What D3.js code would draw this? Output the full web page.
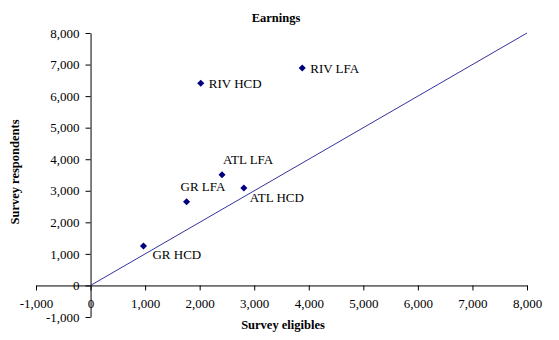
<!DOCTYPE html>
<html>
<head>
<meta charset="utf-8">
<script src="https://cdn.jsdelivr.net/npm/d3@7"></script>
<style>
  html, body { margin: 0; padding: 0; background: #fff; }
  svg { display: block; font-family: "Liberation Serif", "Times New Roman", serif; }
</style>
</head>
<body>
<svg id="chart" width="559" height="340"></svg>
<script>
// Data
const labels      = ['GR HCD', 'GR LFA', 'ATL LFA', 'ATL HCD', 'RIV HCD', 'RIV LFA'];
const eligibles   = [970, 1760, 2410, 2810, 2020, 3880];
const respondents = [1250, 2650, 3510, 3090, 6410, 6890];
// label placement relative to marker: [dx, dy]
const labelPos    = [[9, 8], [-6, -15], [1, -15], [6, 10], [8, 0], [8, 0]];
const tickValues  = [-1000, 0, 1000, 2000, 3000, 4000, 5000, 6000, 7000, 8000];
const refLine     = [[0, 0], [8000, 8000]];

const svg = d3.select('#chart');
const W = 559, H = 340;
const margin = { top: 33, right: 32, bottom: 23, left: 36 };

const xScale = d3.scaleLinear().domain([-1000, 8000]).range([margin.left, W - margin.right]);
const yScale = d3.scaleLinear().domain([-1000, 8000]).range([H - margin.bottom, margin.top]);

// plain hyphen for negatives, like the original
const fmt = d => d3.format(',')(Math.abs(d)).replace(/^/, d < 0 ? '-' : '');
const ink = '#000';

// X axis sits on y = 0
svg.append('g')
  .attr('transform', `translate(0,${yScale(0)})`)
  .call(d3.axisBottom(xScale).tickValues(tickValues).tickFormat(fmt).tickSize(5).tickSizeOuter(0))
  .call(ax => ax.select('.domain').attr('stroke', ink))
  .call(ax => ax.selectAll('line').attr('stroke', ink))
  .call(ax => ax.selectAll('text').attr('fill', ink).attr('font-size', 13).attr('dy', '1.1em'))
  .attr('font-family', null);

// Y axis sits on x = 0
svg.append('g')
  .attr('transform', `translate(${xScale(0)},0)`)
  .call(d3.axisLeft(yScale).tickValues(tickValues).tickFormat(fmt).tickSize(5).tickSizeOuter(0))
  .call(ax => ax.select('.domain').attr('stroke', ink))
  .call(ax => ax.selectAll('line').attr('stroke', ink))
  .call(ax => ax.selectAll('text').attr('fill', ink).attr('font-size', 13).attr('x', -11))
  .attr('font-family', null);

// 45-degree reference line
svg.append('line')
  .attr('x1', xScale(refLine[0][0])).attr('y1', yScale(refLine[0][1]))
  .attr('x2', xScale(refLine[1][0])).attr('y2', yScale(refLine[1][1]))
  .attr('stroke', '#3333a0').attr('stroke-width', 1);

// Points
const pts = labels.map((l, i) => ({ label: l, x: eligibles[i], y: respondents[i], pos: labelPos[i] }));

svg.selectAll('path.pt')
  .data(pts)
  .join('path')
  .attr('class', 'pt')
  .attr('d', d3.symbol(d3.symbolDiamond2, 32))
  .attr('transform', d => `translate(${xScale(d.x)},${yScale(d.y)})`)
  .attr('fill', '#000080');

svg.selectAll('text.lbl')
  .data(pts)
  .join('text')
  .attr('class', 'lbl')
  .attr('x', d => xScale(d.x) + d.pos[0])
  .attr('y', d => yScale(d.y) + d.pos[1])
  .attr('dy', '0.35em')
  .attr('font-size', 13)
  .attr('fill', ink)
  .text(d => d.label);

// Titles
svg.append('text')
  .attr('x', 276).attr('y', 18).attr('dy', '0.35em')
  .attr('text-anchor', 'middle').attr('font-size', 12.5).attr('font-weight', 'bold')
  .text('Earnings');

svg.append('text')
  .attr('x', 283).attr('y', 325).attr('dy', '0.35em')
  .attr('text-anchor', 'middle').attr('font-size', 12.5).attr('font-weight', 'bold')
  .text('Survey eligibles');

svg.append('text')
  .attr('transform', 'rotate(-90)')
  .attr('x', -172).attr('y', 15).attr('dy', '0.35em')
  .attr('text-anchor', 'middle').attr('font-size', 12.5).attr('font-weight', 'bold')
  .text('Survey respondents');
</script>
</body>
</html>
